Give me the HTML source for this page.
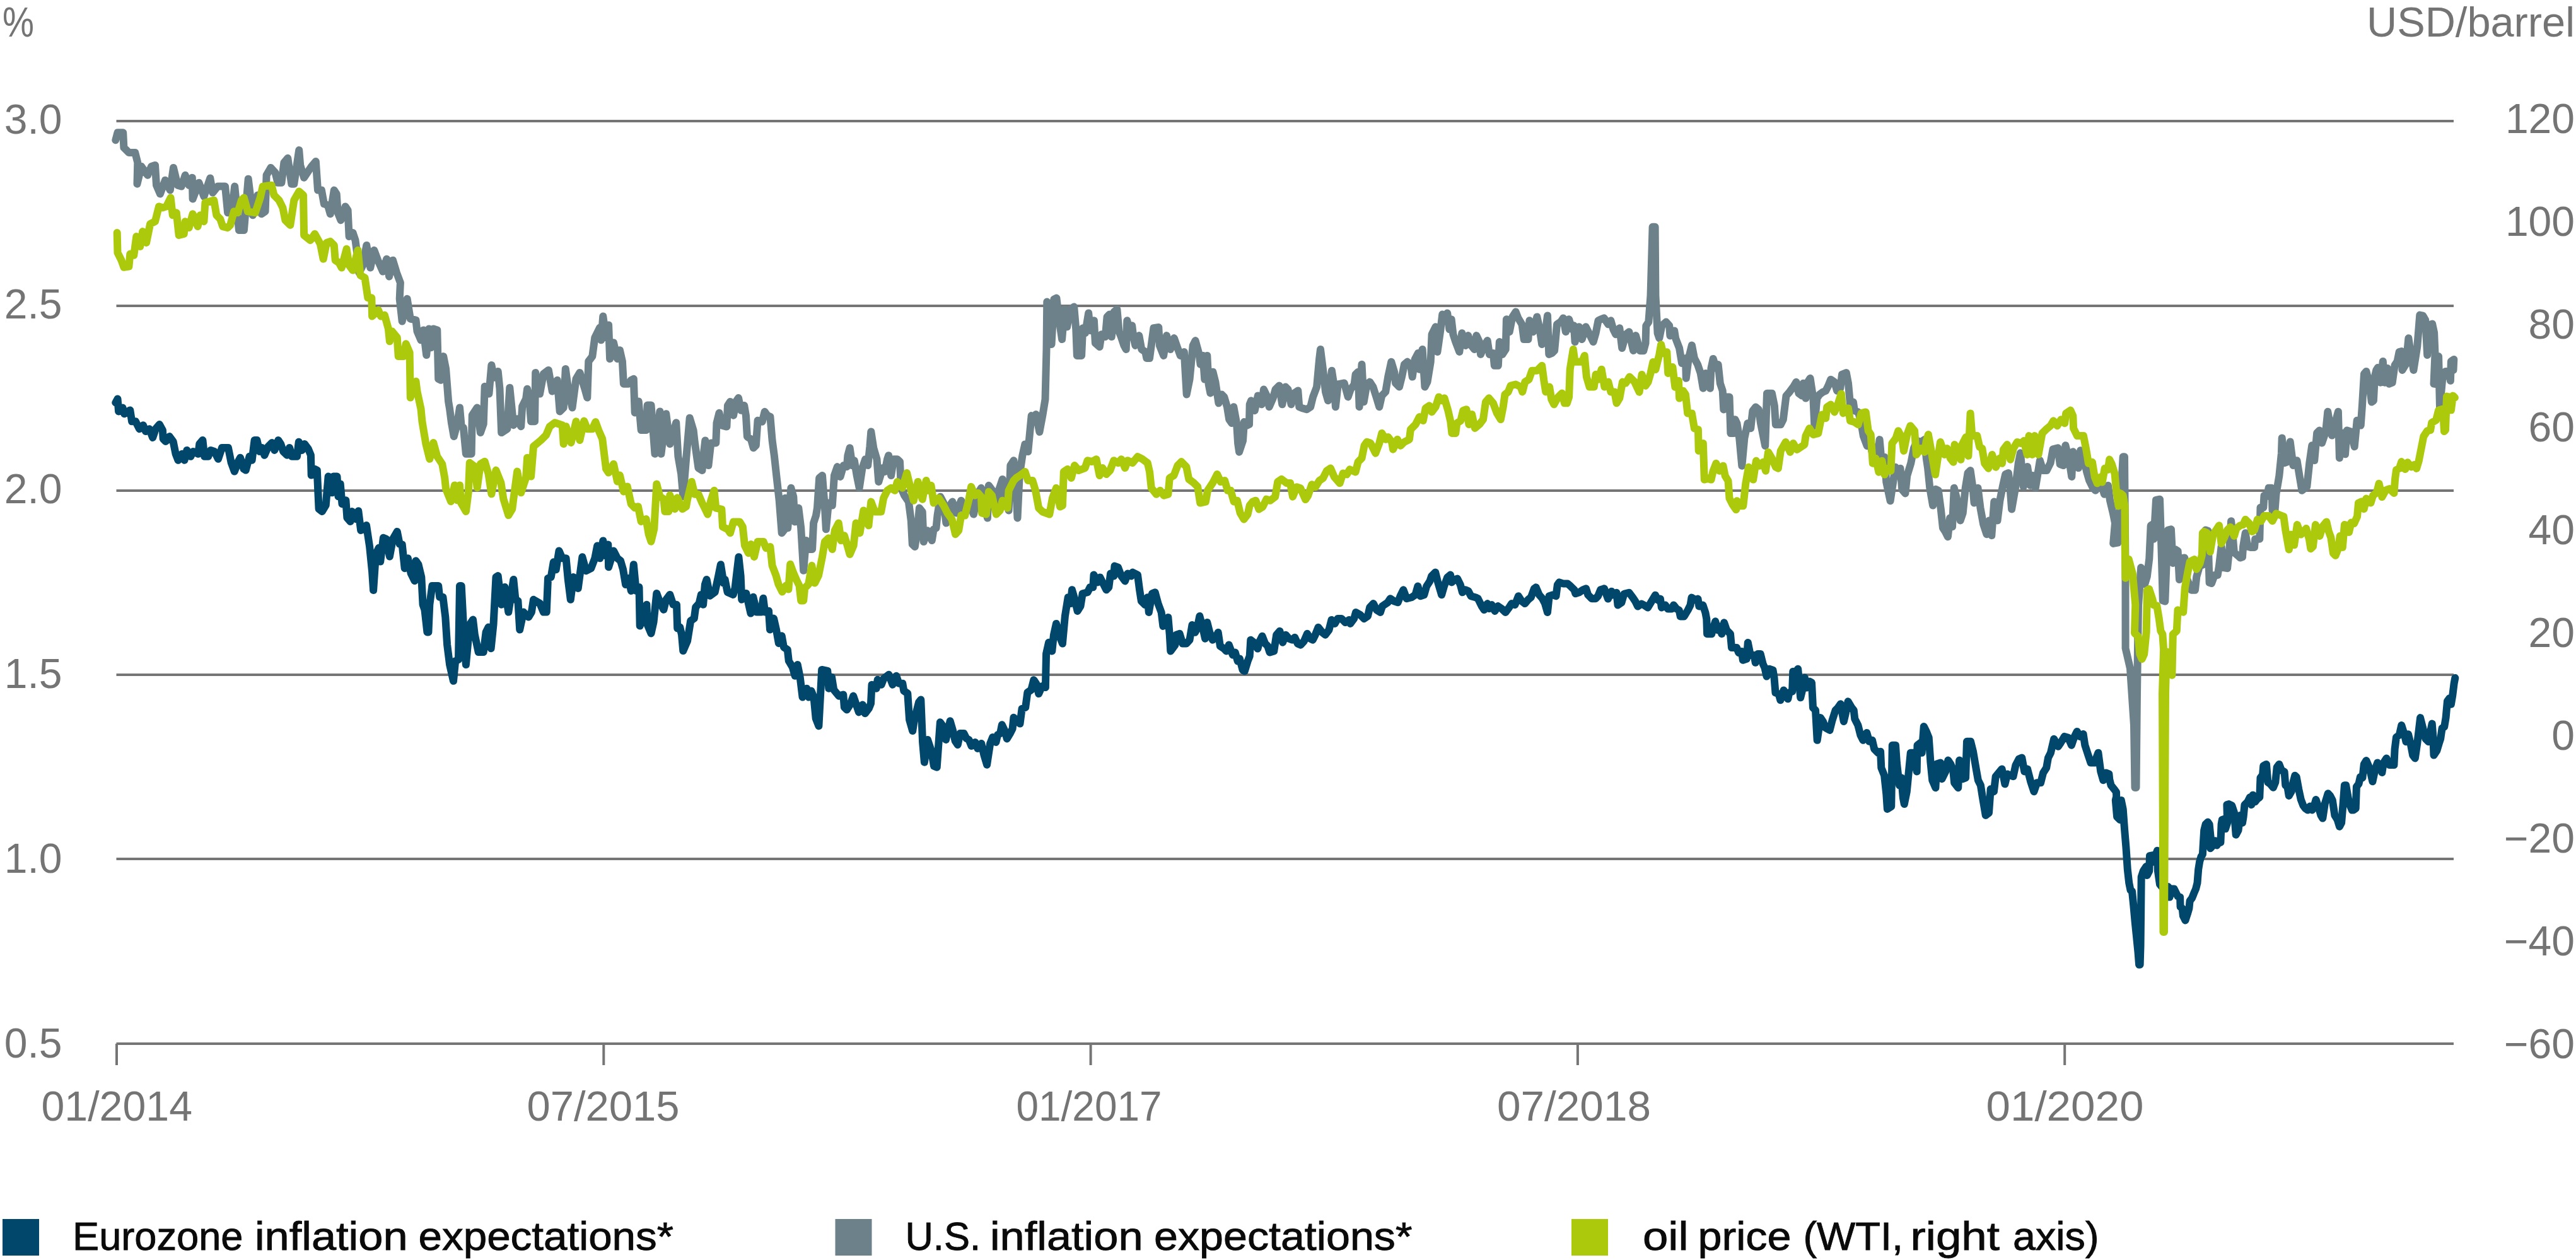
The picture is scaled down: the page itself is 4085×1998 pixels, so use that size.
<!DOCTYPE html>
<html><head><meta charset="utf-8"><title>Inflation expectations and oil price</title>
<style>
html,body{margin:0;padding:0;background:#fff;}
body{width:4085px;height:1998px;overflow:hidden;}
svg{display:block;}
text{font-family:"Liberation Sans",sans-serif;}
.ax{font-size:66px;fill:#747474;}
.lg{font-size:62.5px;fill:#0a0a0a;stroke:#0a0a0a;stroke-width:0.9px;}
</style></head><body>
<svg width="4085" height="1998" viewBox="0 0 4085 1998">
<rect width="4085" height="1998" fill="#fff"/>
<rect x="184.5" y="190" width="3706.5" height="4" fill="#757575"/>
<rect x="184.5" y="483" width="3706.5" height="4" fill="#757575"/>
<rect x="184.5" y="776" width="3706.5" height="4" fill="#757575"/>
<rect x="184.5" y="1068" width="3706.5" height="4" fill="#757575"/>
<rect x="184.5" y="1360" width="3706.5" height="4" fill="#757575"/>
<rect x="184.5" y="1653" width="3706.5" height="4" fill="#757575"/>
<rect x="183" y="1655" width="4" height="34" fill="#757575"/>
<rect x="955.3" y="1655" width="4" height="34" fill="#757575"/>
<rect x="1727.6" y="1655" width="4" height="34" fill="#757575"/>
<rect x="2499.9" y="1655" width="4" height="34" fill="#757575"/>
<rect x="3272.2" y="1655" width="4" height="34" fill="#757575"/>
<text class="ax" x="4" y="58" textLength="50" lengthAdjust="spacingAndGlyphs">%</text>
<text class="ax" x="6.7" y="212">3.0</text>
<text class="ax" x="6.7" y="505">2.5</text>
<text class="ax" x="6.7" y="798">2.0</text>
<text class="ax" x="6.7" y="1091">1.5</text>
<text class="ax" x="6.7" y="1384">1.0</text>
<text class="ax" x="6.7" y="1677">0.5</text>
<text class="ax" x="4083" y="58" text-anchor="end" textLength="330" lengthAdjust="spacingAndGlyphs">USD/barrel</text>
<text class="ax" x="4083" y="211" text-anchor="end">120</text>
<text class="ax" x="4083" y="374" text-anchor="end">100</text>
<text class="ax" x="4083" y="537" text-anchor="end">80</text>
<text class="ax" x="4083" y="700" text-anchor="end">60</text>
<text class="ax" x="4083" y="863" text-anchor="end">40</text>
<text class="ax" x="4083" y="1026" text-anchor="end">20</text>
<text class="ax" x="4083" y="1189" text-anchor="end">0</text>
<text class="ax" x="4083" y="1352" text-anchor="end">−20</text>
<text class="ax" x="4083" y="1515" text-anchor="end">−40</text>
<text class="ax" x="4083" y="1678" text-anchor="end">−60</text>
<text class="ax" x="65.53" y="1777" textLength="239.48" lengthAdjust="spacingAndGlyphs">01/2014</text>
<text class="ax" x="835.51" y="1777" textLength="241.98" lengthAdjust="spacingAndGlyphs">07/2015</text>
<text class="ax" x="1611.52" y="1777" textLength="231" lengthAdjust="spacingAndGlyphs">01/2017</text>
<text class="ax" x="2374" y="1777" textLength="244" lengthAdjust="spacingAndGlyphs">07/2018</text>
<text class="ax" x="3149.49" y="1777" textLength="249.98" lengthAdjust="spacingAndGlyphs">01/2020</text>
<polyline points="183.3,222.2 186.5,210.3 195.2,210.3 196.4,234.1 204.4,242.1 214.3,242.1 218.3,257.9 217.5,291.7 224.2,263.9 234.1,277.8 240.1,263.9 246,261.9 248,293.7 254,307.5 261.9,285.7 269.8,301.6 275,265.9 281.7,293.7 287.7,295.6 293.7,277.8 299.6,293.7 304.8,281.7 305.6,315.5 315.5,289.7 323.4,311.5 333.3,282.5 337.3,305.6 345.2,295.6 357.1,295.6 361.1,337.3 367.1,337.3 372.2,295.6 379,365.1 386.9,365.1 393.7,283.7 400.8,341.3 408.7,309.5 414.7,339.3 420.6,335.3 422.6,277.8 429.4,265.9 436.5,273.8 440.5,289.7 446.4,289.7 450.4,257.9 456.3,250.8 462.3,291.7 466.3,291.7 474.2,238.1 476.2,261.9 482.1,281.7 494,263.9 500.8,256 504,301.6 509.9,301.6 513.9,323.4 519.8,325.4 523.8,339.3 529.8,301.6 533.7,307.5 535.7,337.3 540.5,349.2 547.6,327.4 551.6,333.3 553.6,375 559.5,369 563.5,381 566.7,404.8 569.4,432.5 575.4,420.6 581.3,388.9 587.3,424.6 593.3,396.8 599.2,412.7 607.1,430.6 613.1,410.7 617.1,438.5 623,412.7 629,432.5 634.9,448.4 633.7,473.8 637.7,509.5 645.6,473.8 650.8,505.6 659.5,507.5 661.5,525.4 667.5,539.3 671.4,523.4 676.2,563.1 680.2,521.4 683.3,551.2 687.3,521.4 693.3,523.4 695.2,600.8 699.2,602.8 703.2,565.1 707.1,584.9 711.1,636.5 713.1,648.4 715.9,670.2 719.8,692.1 725,672.2 729,646.4 731.7,676.2 734.9,678.2 738.9,719.8 747.6,719.8 748.8,658.3 756.7,646.4 761.9,686.1 766.7,672.2 768.7,612.7 775.4,624.6 779.4,579 783.3,598.8 789.7,588.9 792.5,616.7 795.2,686.1 804.4,680.2 808.3,614.7 814.3,674.2 820.2,664.3 826.2,676.2 828.2,644.4 834.1,632.5 836.1,616.7 838.9,628.6 842.1,668.3 848,668.3 849.2,590.9 856,624.6 861.9,592.9 869.8,586.9 875.8,620.6 883.7,602.8 887.7,652.4 893.7,646.4 896.8,584.9 901.6,620.6 907.5,646.4 913.5,600.8 919.4,590.9 927.4,616.7 931.3,630.6 933.3,573 939.3,565.1 943.3,535.3 951.2,519.4 953.2,539.3 956.3,501.6 961.1,535.3 965.1,515.5 967.1,569 973,543.3 979,569 982.9,555.2 986.9,573 988.9,608.7 996.8,608.7 1000.8,602.8 1004.8,600.8 1006.7,654.4 1012.7,636.5 1016.7,682.1 1024.6,682.1 1026.6,642.5 1032.5,642.5 1038.5,719.8 1046.4,652.4 1048.4,719.8 1056.3,656.3 1062.3,704 1072.2,670.2 1075.4,723.8 1080.2,751.6 1083.3,787.3 1088.1,727.8 1093.7,662.7 1099.6,682.5 1101.6,700.4 1107.5,742.1 1113.5,746 1115.5,722.2 1118.3,698.4 1123.4,738.1 1127.4,702.4 1135.3,702.4 1136.5,670.6 1140.5,654.8 1145.2,674.6 1152.4,676.6 1154,642.9 1157.9,636.9 1163.1,658.7 1167.1,636.9 1171,631 1175,650.8 1180.2,642.9 1182.9,658.7 1184.9,692.5 1190.9,696.4 1194.8,710.3 1198.8,706.3 1201.6,666.7 1208.7,668.7 1212.7,652.8 1216.7,658.7 1221.4,660.7 1224.6,698.4 1227.8,722.2 1231.7,757.9 1235.7,793.7 1239.7,845.2 1244.4,839.3 1245.2,789.7 1249.2,837.3 1254.4,773.8 1258.3,787.7 1260.3,827.4 1266.3,805.6 1270.2,837.3 1274.2,904.8 1278.2,857.1 1280.2,871 1288.1,871 1290.1,829.4 1294,817.5 1296,805.6 1299.2,757.9 1304,754 1307.9,803.6 1309.9,839.3 1313.9,797.6 1319.8,801.6 1323,754 1327.8,740.1 1332.5,756 1337.7,738.1 1342.9,740.1 1344.4,722.2 1347.6,710.3 1351.6,738.1 1354.8,730.2 1358.7,754 1362.7,773.8 1367.5,742.1 1372.2,728.2 1376.2,738.1 1379.4,708.3 1381.3,684.5 1385.3,710.3 1390.5,728.2 1393.3,763.9 1400,742.1 1403.2,748 1407.1,728.2 1409.1,722.2 1413.1,754 1417.1,728.2 1423,728.2 1427,732.1 1429,773.8 1434.1,785.7 1440.9,795.6 1444.8,825.4 1446.8,863.1 1450.8,867.1 1454.8,841.3 1457.9,805.6 1462.7,811.5 1464.7,859.1 1470.6,841.3 1477.8,857.1 1480.6,839.3 1484.5,837.3 1486.5,817.5 1491.3,787.7 1496.4,797.6 1500.4,829.4 1506.3,801.6 1510.3,795.6 1516.3,813.5 1524.2,793.7 1530.2,809.5 1538.1,797.6 1544,815.5 1550,783.7 1556,773.8 1561.9,801.6 1565.9,821.4 1567.9,769.8 1573.8,777.8 1579.8,801.6 1583.7,777.8 1589.7,759.9 1593.7,789.7 1599.6,809.5 1602.4,738.1 1607.5,730.2 1610.3,754 1613.5,821.4 1616.7,754 1621.4,722.2 1625.4,704.4 1630.2,716.3 1635.7,659.1 1639.7,665.1 1642.9,657.1 1648.4,684.9 1653.6,657.1 1657.5,633.3 1659.5,554 1660.3,478.6 1665.5,484.5 1667.5,546 1671.4,474.6 1675.4,472.6 1679.4,506.3 1684.1,538.1 1688.1,490.5 1692.1,518.3 1697.2,490.5 1703.2,486.5 1706.3,522.2 1707.9,563.9 1715.1,563.9 1717.1,520.2 1721,528.2 1726.2,496.4 1729,524.2 1734.9,508.3 1736.9,544 1743.7,550 1746.8,530.2 1752.8,534.1 1755.6,502.4 1759.5,498.4 1762.7,534.1 1766.7,494.4 1771.4,490.5 1774.6,526.2 1777.8,534.1 1782.5,548 1785.7,554 1787.3,508.3 1791.3,522.2 1795.2,516.3 1797.6,536.1 1800.4,548 1806.3,532.1 1810.3,554 1816.3,557.9 1818.3,567.9 1823,567.9 1827,538.1 1829.4,520.2 1837.3,519 1838.9,548 1845.2,563.9 1850,532.1 1856,554 1861.9,536.1 1866.7,550 1871.8,563.9 1877.8,557.9 1881.7,625.4 1886.5,601.6 1891.7,548 1895.6,540.1 1901.6,561.9 1903.6,577.8 1907.5,563.9 1910.3,601.6 1914.3,563.9 1916.7,609.5 1919.4,623.4 1923.4,589.7 1927.4,605.6 1932.5,639.3 1937.3,625.4 1941.3,629.4 1946,645.2 1949.2,665.1 1953.2,671 1956.3,645.2 1961.1,671 1963.1,702.8 1965.1,716.7 1971,698.8 1973,669 1977,675 1981,673 1981.7,641.3 1984.1,635.3 1989.7,651.2 1994.8,627.4 2000.8,641.3 2004,617.5 2008.7,627.4 2012.7,645.2 2018.7,631.3 2022.6,617.5 2028.6,611.5 2033.3,641.3 2038.5,613.5 2042.5,617.5 2047.6,641.3 2052.4,623.4 2058.3,619.4 2060.3,645.2 2065.1,647.2 2072.2,649.2 2078.2,645.2 2082.1,629.4 2088.1,613.5 2092.1,569.8 2094,554 2098,585.7 2102,621.4 2106,635.3 2111.9,587.7 2115.9,613.5 2117.9,645.2 2121.8,609.5 2131.7,607.5 2137.7,629.4 2141.7,617.5 2147.6,609.5 2149.6,593.7 2153.6,589.7 2155.6,645.2 2159.5,577.8 2162.7,637.3 2167.5,609.5 2172.2,605.6 2177.4,613.5 2182.5,629.4 2187.3,645.2 2191.3,627.4 2197.2,621.4 2201.2,597.6 2206.3,573.8 2211.1,589.7 2213.1,607.5 2219,613.5 2223,597.6 2227,577.8 2231.7,573.8 2236.9,577.8 2239.7,597.6 2243.7,569.8 2248.8,559.9 2250.8,585.7 2255.6,554 2259.5,613.5 2263.5,605.6 2268.7,573.8 2270.6,530.2 2276.6,518.3 2279.4,557.9 2284.5,522.2 2287.3,498.4 2292.5,502.4 2295.2,496.4 2298.4,522.2 2301.6,506.3 2304.4,530.2 2308.3,542.1 2314.3,557.9 2318.3,528.2 2324.2,548 2328.2,532.1 2333.3,548 2338.1,554 2341.3,532.1 2346,542.1 2348,561.9 2354,548 2358.7,540.1 2361.9,561.9 2367.9,559.9 2369.8,579.8 2375.8,579.8 2377.8,542.1 2382.5,561.9 2387.7,554 2388.9,506.3 2393.7,526.2 2398.4,502.4 2403.6,494.4 2407.5,504.4 2413.5,514.3 2416.7,538.1 2423.4,538.1 2425.4,508.3 2431.3,526.2 2437.3,502.4 2441.3,520.2 2445.2,546 2449.2,538.1 2454,500.4 2456.3,561.9 2461.1,559.9 2465.1,556 2469,514.3 2475,510.3 2479,504.4 2482.9,526.2 2488.1,506.3 2492.9,522.2 2496,516.3 2497.6,542.1 2504,518.3 2508.7,538.1 2514.7,518.3 2519.8,528.2 2526.6,542.1 2530.6,528.2 2534.5,508.3 2538.5,506.3 2543.7,504.4 2550.4,514.3 2554.4,508.3 2558.3,522.2 2562.3,530.2 2568.3,520.2 2572.2,552 2578.2,530.2 2583.3,526.2 2590.1,556 2594,532.1 2600.8,556.2 2606.3,556.2 2609.5,544.3 2610.3,516.5 2614.3,510.6 2617.5,468.9 2620.6,359.8 2624.6,359.8 2625.4,468.9 2628.6,528.4 2631.3,536.3 2635.3,516.5 2642.1,510.6 2647.2,516.5 2648.4,532.4 2655.2,524.4 2657.1,536.3 2663.1,552.2 2667.1,576 2673,568.1 2673.8,599.8 2677.8,568.1 2682.9,547.5 2686.9,568.1 2692.1,578 2696.8,591.9 2700.8,615.7 2704.8,591.9 2711.9,615.7 2713.5,584 2716.7,568.9 2721.4,584 2724.6,578 2727.8,607.8 2731.7,619.7 2733.3,649.4 2738.5,629.6 2742.5,629.6 2744.4,687.1 2749.2,687.1 2751.6,665.3 2754.4,671.3 2758.3,695.1 2762.3,738.7 2766.3,695.1 2771.4,671.3 2776.2,679.2 2779.4,651.4 2784.1,645.5 2788.9,649.4 2792.1,671.3 2799.2,707 2802,623.7 2809.9,623.7 2813.9,643.5 2815.9,673.3 2823.8,673.3 2827.8,665.3 2832.5,627.6 2837.7,621.7 2843.7,613.7 2848.4,605.8 2852.4,623.7 2857.5,627.6 2859.5,607.8 2863.5,631.6 2865.5,607.8 2870.6,599.8 2875.4,631.6 2877.4,675.2 2881.3,631.6 2885.3,625.6 2890.5,621.7 2895.2,619.7 2899.2,611.7 2903.2,601.8 2909.1,605.8 2913.1,619.7 2918.3,615.7 2921,593.9 2927.8,591.1 2931,607.8 2934.1,641.5 2938.9,637.5 2940.9,651.4 2946.8,653.4 2950.8,667.3 2954.8,691.1 2960.7,707 2964.7,699 2968.7,716.9 2971.4,709 2977.8,726.8 2980.6,697.1 2983.3,726.8 2988.5,724.8 2991.3,764.5 2997.6,794.3 3002.4,762.5 3005.6,740.7 3009.5,754.6 3013.5,742.7 3016.3,776.4 3021.4,782.4 3024.2,754.6 3030.2,734.8 3034.9,711 3040.1,699 3046,701 3052,697.1 3054.8,726.8 3057.1,742.1 3060.3,773.8 3065.1,801.6 3069.8,775.8 3073.8,777.8 3077.8,807.5 3081,837.3 3084.9,843.3 3088.9,851.2 3092.1,821.4 3096,835.3 3098.8,773.8 3102.8,789.7 3108.7,825.4 3112.7,813.5 3116.7,773.8 3120.6,750 3124.6,746 3128.6,773.8 3130.6,797.6 3136.5,773.8 3140.5,805.6 3145.2,831.3 3150.4,847.2 3154.4,825.4 3158.3,849.2 3162.3,795.6 3167.5,825.4 3171.4,793.7 3176.2,769.8 3180.2,752 3184.9,750 3187.3,769.8 3190.1,807.5 3196,773.8 3200.8,734.1 3204,718.3 3208.7,771.8 3215.1,740.1 3219.8,769.8 3223.8,754 3227.8,773.8 3234.9,730.2 3239.7,746 3245.6,746 3251.6,734.1 3255.6,712.3 3263.5,710.3 3266.7,736.1 3272.2,738.1 3275.4,706.3 3281.3,730.2 3285.3,756 3287.3,716.3 3292.1,726.2 3296,742.1 3299.2,714.3 3305.2,730.2 3309.1,748 3313.1,761.9 3319,773.8 3323,777.8 3329,761.9 3332.9,769.8 3336.9,783.7 3342.9,769.8 3346,793.7 3350.8,813.5 3354,829.4 3351.2,861.9 3358.3,860.7 3361.4,819 3366.7,724.3 3369,724.3 3370.5,900 3370.6,1028 3378,1060 3384,1150 3385.5,1249 3387.5,1249 3389,1100 3391,960 3395.2,900 3398.8,907.1 3401.2,926.2 3404.8,914.3 3408.3,885.7 3410.7,833.3 3414.3,831 3415.5,854.8 3419,792.9 3425,791.7 3427.4,866.7 3429.8,952.4 3433.3,953.6 3435.7,890.5 3438.1,840.5 3442.9,839.3 3445.7,892.9 3450,871.4 3453.6,873.8 3456,919 3458.3,885.7 3464.3,884.5 3466.7,914.3 3475,935.7 3481,935.7 3483.3,914.3 3488.1,897.6 3494,895.2 3497.6,840.5 3501.2,841.7 3503.6,923.8 3507.1,925 3511.9,911.9 3516.7,911.9 3519,897.6 3522.6,866.7 3526.2,900 3532.1,901.2 3535.7,866.7 3538.1,826.2 3540.5,847.6 3542.9,876.2 3548.8,881 3552.4,884.5 3556,883.3 3557.1,866.7 3560.7,845.2 3564.3,866.7 3569,867.9 3575,867.9 3576.2,854.8 3583.3,854.8 3584.5,804.8 3589.3,804.8 3590.5,785.7 3595.2,786.9 3597.6,773.8 3602.4,773.8 3603.6,809.5 3607.1,814.3 3609.5,783.3 3614.3,754.8 3617.9,719 3618.7,694.4 3622.6,734.1 3627.8,732.1 3631.7,700.4 3636.5,738.1 3642.5,730.2 3646.4,754 3650.4,777.8 3658.3,771.8 3662.3,734.1 3666.3,706.3 3670.2,730.2 3674.2,686.5 3678.2,682.5 3682.1,702.4 3688.1,684.5 3691.3,652.8 3698,690.5 3702,674.6 3707.9,652.8 3709.9,726.2 3713.9,686.5 3719,720.2 3721.8,682.5 3727.8,684.5 3733.7,708.3 3737.7,666.7 3743.7,674.6 3746,642.5 3749,592.9 3752.4,588.9 3756.9,606.7 3760.9,637.5 3763.9,635.5 3765.9,596.8 3768.3,586.9 3770.8,582.9 3774.8,606.7 3778.8,573 3781.7,606.7 3785.7,583.9 3788.7,608.7 3793.7,606.7 3797.6,579 3801.6,573 3804.6,558.1 3808.5,557.1 3809.5,586.9 3815.5,577 3819.4,536.3 3822.4,557.1 3827.4,586.9 3833.3,549.2 3837.3,499.6 3842.3,500.6 3846.2,507.5 3849.2,563.1 3852.2,515.5 3857.1,513.5 3860.1,527.4 3861.5,561.1 3859.5,608.7 3865.5,609.7 3867.1,565.1 3869,645.4 3874,592.9 3878,588.9 3882.9,588.9 3885.9,603.8 3886.9,573 3891.3,570 3890.5,586.9" fill="none" stroke="#6c8189" stroke-width="12" stroke-linejoin="round" stroke-linecap="round"/>
<polyline points="183.3,638.5 186.5,632.5 188.1,652.4 194.4,646.4 197.2,656.3 206.3,650.4 209.1,668.3 215.1,668.3 221,680.2 227,674.2 231,684.1 236.9,680.2 242.1,694 246.8,680.2 252.8,673 257.9,682.1 258.7,696 262.7,700 268.7,692.1 274.6,700 278.6,719.8 282.5,729.8 288.5,719.8 292.5,729.8 296.4,713.9 302.4,723.8 306.3,715.9 314.3,719.8 316.3,704 321.4,698 324.2,723.8 330.2,723.8 334.1,713.9 340.1,715.9 346,727.8 352,709.9 361.9,709.9 366.7,733.7 371.8,747.6 377.8,731.7 381,725.8 386.5,743.7 389.7,745.6 395.6,723.8 399.6,729.8 403.6,698 407.5,698 411.5,715.9 415.5,709.9 419.4,721.8 425.4,707.9 431.3,702 435.3,713.9 441.3,698 445.2,704 449.2,715.9 455.2,721.8 459.1,709.9 463.1,723.8 471,723.8 473.8,700.8 479,713.9 482.9,704 488.9,711.9 492.9,721.8 493.7,753.6 498.8,743.7 502.8,745.6 505.6,807.1 510.7,811.1 516.7,801.2 520.6,755.6 526.6,781.3 528.6,755.6 534.5,755.6 536.5,787.3 539.7,767.5 542.5,799.2 548.4,793.3 550.4,821 555.6,827 558.3,811.1 564.3,823 568.3,810.3 572.2,840.9 576.2,838.9 581,832.9 586.1,866.7 590.1,906.3 592.1,936.1 596,878.6 600.8,868.7 603.2,890.5 607.9,852.8 612.7,854.8 617.9,882.5 623,854.8 629.8,842.9 633.7,862.7 637.7,863.5 641.7,901.2 646.8,885.3 651.6,909.1 657.5,921 659.5,889.3 663.5,895.2 668.3,915.1 670.6,958.7 673.4,966.7 677.4,1002.4 679.4,1002.4 681.3,958.7 685.3,929 695.2,929 697.2,946.8 702.4,946.8 706.3,978.6 709.1,1022.2 713.1,1054 719,1079.8 722.2,1048 727,1046 729,929 731.7,929 734.9,990.5 738.9,1054 744.8,990.5 750,982.5 752.8,1006.3 758.7,1034.1 766.7,1034.1 770.6,1002.4 774.6,994.4 778.6,1028.2 782.5,990.5 786.5,915.1 789.7,913.1 795.2,958.7 800.4,931 806.3,970.6 814.3,919 817.5,950.8 821.4,952.8 824.2,998.4 830.2,970.6 838.1,978.6 842.9,970.6 846,950.8 856,956.7 861.9,970.6 866.7,970.6 869,917.1 873.8,915.1 877.8,891.3 881.7,903.2 886.5,873.4 891.7,885.3 897.6,885.3 900.8,919 904.8,950.8 909.5,915.1 916.7,932.9 923.4,883.3 929.4,905.2 937.3,901.2 943.3,885.3 947.2,865.5 951.2,885.3 956.3,857.5 960.3,881.3 964.3,863.5 965.1,899.2 973,873.4 979,885.3 984.1,889.3 988.1,903.2 992.1,927 996.8,917.1 1000.8,936.9 1004.8,895.2 1008.7,936.9 1013.5,931 1014.7,992.5 1020.6,974.6 1025.4,958.7 1026.6,990.5 1032.5,1004.4 1036.5,986.5 1041.3,940.9 1046.4,954.8 1052.4,966.7 1056.3,950.8 1062.3,942.9 1067.5,958.7 1073,958.7 1074.2,996.4 1078.2,994.4 1081,1006.3 1083.3,1032.1 1090.1,1016.3 1095.2,984.5 1100.8,980.6 1103.2,962.7 1108.7,956.7 1111.9,942.9 1115.1,958.7 1117.9,927 1120.6,919 1125.8,944.8 1133.7,938.9 1138.9,915.1 1142.9,895.2 1147.6,925 1149.6,919 1153.6,938.9 1162.7,942.9 1165.5,932.9 1171.4,883.3 1174.6,913.1 1176.2,950.8 1183.3,940.9 1190.5,972.6 1194.4,946.8 1200,970.6 1207.1,970.6 1210.3,948.8 1213.1,970.6 1219,968.7 1221,998.4 1227,980.6 1231,998.4 1234.9,1020.2 1239.7,1008.3 1242.9,1026.2 1248.8,1030.2 1250.8,1048 1256.7,1057.9 1260.7,1071.8 1264.7,1054 1268.7,1073.8 1272.6,1105.6 1279.4,1091.7 1282.5,1105.6 1286.5,1095.6 1290.5,1105.6 1293.7,1139.3 1298.4,1151.2 1303.2,1061.9 1312.3,1063.9 1314.3,1091.7 1319,1073.8 1322.2,1093.7 1330.2,1103.6 1337.3,1101.6 1338.9,1121.4 1342.9,1125.4 1348,1117.5 1353.2,1103.6 1357.9,1117.5 1361.9,1129.4 1367.9,1117.5 1371.8,1131.3 1377.8,1123.4 1381,1115.5 1382.5,1085.7 1389.7,1091.7 1391.7,1077.8 1397.6,1085.7 1401.6,1075.8 1409.5,1069.8 1415.5,1085.7 1421.4,1071.8 1425.4,1083.7 1431.3,1083.7 1433.3,1095.6 1439.3,1099.6 1442.1,1141.3 1447.2,1159.1 1450,1141.3 1457.1,1113.5 1460.3,1109.5 1463.1,1177 1465.9,1208.7 1471,1173 1477,1190.9 1481,1214.7 1485.7,1216.7 1490.9,1145.2 1496.8,1153.2 1500,1173 1506.7,1143.3 1510.7,1157.1 1514.7,1175 1518.7,1181 1522.6,1163.1 1528.6,1163.1 1532.5,1171 1536.5,1173 1540.5,1182.9 1546.4,1177 1550.4,1186.9 1556.3,1179 1560.3,1196.8 1565.1,1212.7 1570.2,1179 1574.2,1169 1579.4,1177 1582.1,1165.1 1586.1,1163.1 1588.9,1149.2 1593.7,1159.5 1596.8,1171.4 1601.6,1163.5 1605.6,1155.6 1607.5,1137.7 1612.7,1143.7 1617.5,1147.6 1620.6,1123.8 1626.2,1121.8 1629.4,1098 1635.3,1094 1639.3,1078.2 1643.3,1084.1 1647.2,1100 1652.4,1088.1 1657.9,1090.1 1659.1,1036.5 1663.1,1018.7 1668.3,1032.5 1671,1006.7 1675,988.9 1680.2,1008.7 1684.9,1020.6 1688.9,977 1693.7,947.2 1697.6,957.1 1700,935.3 1704,949.2 1708.7,969 1713.5,961.1 1716.7,941.3 1724.6,939.3 1728.6,931.3 1733.3,931.3 1734.5,911.5 1740.5,923.4 1744.4,915.5 1750.4,927.4 1754.4,935.3 1758.3,931.3 1761.1,909.5 1766.3,913.5 1767.5,897.6 1773,899.6 1778.2,913.5 1784.1,921.4 1788.1,909.5 1794,913.5 1796,907.5 1804,911.5 1807.1,935.3 1809.9,953.2 1815.9,959.1 1819.8,947.2 1821.8,971 1827,941.3 1831.7,939.3 1836.5,957.1 1841.7,971 1844.4,992.9 1849.6,984.9 1852.4,979 1854.8,1006.7 1856.3,1032.5 1863.5,1022.6 1865.5,1006.7 1870.6,1004.8 1875.4,1020.6 1881.3,1020.6 1886.5,1014.7 1890.5,990.9 1895.2,1002.8 1898.4,996.8 1902.4,977 1907.1,994.8 1911.1,1012.7 1914.3,986.9 1918.3,1002.8 1923,1014.7 1929,1008.7 1931.7,1002.8 1934.9,1024.6 1940.9,1028.6 1944.8,1032.5 1948.8,1022.6 1954.8,1038.5 1958.7,1034.5 1962.7,1048.4 1965.9,1044.4 1970.6,1062.3 1973.8,1064.3 1978.6,1048.4 1981.7,1040.5 1983.3,1014.7 1988.5,1018.7 1994.4,1028.6 1997.6,1016.7 2001.6,1008.7 2006.3,1020.6 2010.3,1024.6 2013.5,1034.5 2020.2,1032.5 2024.2,1006.7 2029.4,1000.8 2034.1,1018.7 2038.9,1006.7 2044,1012.7 2049.2,1014.7 2053.2,1010.7 2057.9,1020.6 2062.7,1022.6 2067.9,1016.7 2073,1004.8 2077.8,1012.7 2081.7,1014.7 2085.7,1006.7 2090.5,994.8 2096.8,1002.8 2101.6,1006.7 2107.5,998.8 2111.5,982.9 2116.7,988.9 2121.4,981 2127.4,981 2133.3,986.9 2139.3,982.9 2141.3,988.9 2147.2,981 2150,971 2157.1,975 2163.1,981 2169,977 2172.2,963.1 2177.8,957.1 2182.9,967.1 2188.9,971 2192.1,961.1 2200.8,955.2 2204.8,949.2 2210.7,953.2 2216.7,955.2 2220.6,945.2 2225.4,935.3 2230.6,949.2 2238.5,947.2 2244.4,943.3 2248.4,929.4 2252.4,945.2 2258.3,943.3 2262.3,929.4 2267.5,921.4 2270.2,913.5 2276.2,907.5 2280.2,923.4 2286.1,943.3 2290.1,929.4 2295.2,915.5 2300,911.5 2302,923.4 2306,919.4 2311.1,917.5 2315.9,927.4 2319,939.3 2323.8,935.3 2328.6,937.3 2332.5,945.2 2339.7,947.2 2343.7,949.2 2349.6,961.1 2353.6,967.1 2358.7,957.1 2361.5,965.1 2365.5,959.1 2370.6,969 2375.4,961.1 2381.3,965.1 2387.3,971 2393.3,963.1 2397.2,957.1 2402.4,959.1 2407.9,945.2 2413.1,953.2 2418.3,957.1 2423,951.2 2427.8,947.2 2432.9,933.3 2435.7,931.3 2440.9,943.3 2446,949.2 2450,957.1 2454,971 2456.7,945.2 2462.7,943.3 2467.5,945.2 2469.8,927.4 2472.6,923.4 2478.6,925.4 2485.7,925.4 2490.5,929.4 2496.4,935.3 2498.4,941.3 2504.4,939.3 2510.3,935.3 2515.1,933.3 2518.3,943.3 2524.2,949.2 2530.2,949.2 2534.1,945.2 2538.1,935.3 2544,933.3 2550,949.6 2555.6,937.7 2559.5,943.7 2563.5,939.7 2565.5,959.5 2571.4,955.6 2575.4,941.7 2583.3,939.7 2589.3,947.6 2593.3,953.6 2597.2,961.5 2603.2,957.5 2607.1,959.5 2613.1,963.5 2619,953.6 2625,943.7 2629,951.6 2632.9,949.6 2634.9,963.5 2640.9,959.5 2644.8,965.5 2650.8,965.5 2654,959.5 2658.7,965.5 2662.7,967.5 2664.7,977.4 2670.6,977.4 2676.6,967.5 2680.6,959.5 2682.5,947.6 2688.5,951.6 2692.5,949.6 2694.4,961.5 2700.4,959.5 2704.4,971.4 2706.3,981.3 2707.1,1005.2 2714.3,1005.2 2717.5,993.3 2720.2,985.3 2724.2,999.2 2728.2,993.3 2730.2,1005.2 2734.1,987.3 2738.1,999.2 2744,1005.2 2746,1027 2754,1027 2757.1,1034.9 2761.9,1032.9 2763.9,1046.8 2769.8,1044.8 2771.8,1019 2775.8,1038.9 2781.7,1038.9 2783.7,1050.8 2787.7,1036.9 2791.7,1036.9 2795.6,1052.8 2798.4,1058.7 2801.6,1072.6 2805.6,1060.7 2811.5,1062.7 2813.5,1074.6 2815.5,1098.4 2820.6,1100.4 2823.4,1110.3 2828.6,1094.4 2835.3,1108.3 2837.3,1098.4 2842.1,1096.4 2843.3,1064.7 2847.2,1066.7 2851.2,1060.7 2855.2,1106.3 2859.1,1090.5 2861.9,1074.6 2865.1,1090.5 2869.8,1080.6 2873,1082.5 2875,1122.2 2879,1126.2 2881.7,1173.8 2886.9,1138.1 2890.9,1144 2894.8,1154 2901.6,1157.9 2905.6,1142.1 2910.7,1126.2 2914.7,1122.2 2918.7,1116.3 2923.8,1144 2926.6,1132.1 2930.6,1112.3 2936.5,1122.2 2939.7,1126.2 2941.3,1140.1 2946.4,1150 2950.4,1165.9 2954.4,1173.8 2960.3,1161.9 2964.3,1175.8 2969,1173.8 2972.2,1187.7 2978.2,1193.7 2982.1,1191.7 2983.3,1217.5 2988.1,1229.4 2991.3,1259.1 2992.9,1282.9 2999.2,1279 3000.8,1181.7 3006,1181.7 3007.9,1209.5 3011.9,1245.2 3015.1,1233.3 3017.9,1265.1 3019.8,1275 3023.8,1255.2 3029.8,1193.7 3033.7,1193.7 3035.7,1205.6 3039.7,1223.4 3040.5,1181.7 3045.6,1177.8 3047.6,1193.7 3050.8,1152 3054.8,1159.9 3058.7,1169.8 3061.5,1209.5 3064.3,1237.3 3069.4,1249.2 3071.4,1211.5 3077.4,1209.5 3079.4,1235.3 3085.3,1223.4 3089.3,1205.6 3093.3,1211.5 3097.2,1221.4 3099.2,1241.3 3105.2,1249.2 3107.1,1205.6 3111.9,1235.3 3117.1,1233.3 3119,1175.8 3125,1175.8 3129,1191.7 3134.1,1221.4 3136.9,1237.3 3140.9,1245.2 3143.7,1263.1 3148.8,1292.9 3154,1288.9 3156.7,1251.2 3161.9,1255.2 3164.7,1231.3 3174.6,1219.4 3179.4,1243.3 3183.3,1227.4 3192.5,1231.3 3196.4,1213.5 3201.6,1203.6 3206.3,1201.6 3210.3,1223.4 3215.1,1219.4 3220.2,1239.3 3225.4,1255.2 3230.2,1241.3 3236.1,1241.3 3240.1,1225.4 3245.2,1217.5 3248,1201.6 3252,1193.7 3257.1,1171.8 3263.9,1183.7 3267.9,1177.8 3273.8,1167.9 3279.8,1169.8 3284.9,1181.7 3289.7,1167.9 3293.7,1159.9 3298.4,1167.9 3303.6,1163.9 3306.3,1181.7 3311.5,1197.6 3315.5,1209.5 3321.4,1209.5 3327.4,1193.7 3331.3,1223.4 3335.3,1237.3 3339.3,1225.4 3344.4,1227.4 3345.2,1235.7 3347.6,1245.2 3352.4,1251.2 3356,1256 3356.2,1263.1 3354.8,1269 3357.1,1295.2 3361.9,1300 3363.8,1269 3366.7,1283.3 3369,1314.3 3371.4,1342.9 3373.8,1378.6 3376.2,1400 3378.6,1411.9 3381,1413.1 3383.3,1435.7 3385.7,1461.9 3388.1,1485.7 3390.5,1509.5 3392.1,1529.8 3393.6,1529.8 3394.5,1500 3395.2,1438.1 3395.7,1390.5 3398.8,1381 3403.6,1373.8 3404.8,1388.1 3408.3,1381 3409,1357.1 3414.3,1356 3416,1366.7 3417.9,1357.1 3421,1348.8 3421.9,1381 3425,1402.4 3431,1409.5 3438.1,1406 3440.5,1422.6 3444,1409.5 3447.6,1409.5 3451.2,1416.7 3453.6,1421.4 3457.1,1422.6 3457.6,1438.1 3460.7,1440.5 3461.9,1452.4 3465.5,1459.5 3468.6,1450 3471.4,1440.5 3472.6,1428.6 3476.2,1423.8 3479,1416.7 3482.1,1409.5 3484.5,1400 3486.2,1378.6 3488.1,1366.7 3490.5,1358.3 3492.9,1354.8 3494,1335.7 3495.2,1316.7 3497.6,1307.1 3501.2,1303.6 3503.6,1307.1 3506,1331 3505.2,1345.2 3509.5,1340.5 3513.1,1333.3 3515.5,1340.5 3517.9,1336.9 3521.4,1335.7 3522.6,1307.1 3523.8,1300 3527.4,1298.8 3529,1314.3 3532.1,1304.8 3531.4,1276.2 3534.5,1275 3539.3,1277.4 3542.9,1288.1 3544,1302.4 3545.7,1323.8 3549.5,1316.7 3552.4,1292.9 3556,1304.8 3557.6,1295.2 3559.5,1276.2 3564.3,1271.4 3567.9,1264.3 3570.2,1276.2 3572.6,1260.7 3576.2,1271.4 3579.8,1266.7 3583.3,1264.3 3584.5,1233.3 3588.1,1228.6 3589.3,1214.3 3594,1211.9 3596.4,1240.5 3600,1242.9 3604.8,1248.8 3608.3,1240.5 3610.7,1216.7 3614.3,1211.9 3617.9,1221.4 3622.6,1223.8 3624.3,1245.2 3627.4,1247.6 3629.8,1261.9 3633.8,1254.8 3635.2,1245.2 3639.3,1229.8 3641.7,1232.1 3645.2,1251.2 3648.8,1267.9 3652.4,1277.4 3656,1282.1 3659.5,1284.5 3663.1,1278.6 3666.7,1284.5 3670.2,1276.2 3672.6,1267.9 3676.2,1278.6 3680.5,1292.9 3683.3,1297.6 3686.9,1273.8 3691.7,1258.3 3695.2,1261.9 3698.8,1269 3702.4,1292.9 3706.7,1300 3710,1310.7 3713.1,1304.8 3715.5,1276.2 3717.9,1245.2 3720.2,1245.2 3723.8,1265.5 3726.2,1276.2 3729.8,1284.5 3732.1,1284.5 3735.7,1282.1 3736.9,1247.6 3740.5,1242.9 3742.9,1232.1 3746.4,1233.3 3748.8,1211.9 3752.4,1206 3756,1214.3 3759.5,1226.2 3762.4,1239.3 3766.7,1219 3770.2,1209.5 3773.8,1214.3 3777.4,1225 3779.8,1209.5 3784.5,1202.4 3789.3,1213.1 3796.4,1213.1 3797.6,1188.1 3800,1169 3804.8,1165.5 3808.3,1150 3813.1,1165.5 3815.5,1176.2 3819,1164.3 3822.6,1178.6 3826.2,1197.6 3829.8,1202.4 3833.3,1178.6 3838.1,1138.1 3842.9,1157.1 3846.4,1171.4 3851.2,1176.2 3854.8,1157.1 3856.7,1147.6 3858.3,1166.7 3859.5,1197.6 3864.3,1190.5 3867.9,1178.6 3870.2,1171.4 3872.6,1154.8 3876.2,1152.4 3878.6,1138.1 3881,1111.9 3884.5,1107.1 3886.9,1116.7 3889.3,1102.4 3891.7,1083.3 3893.3,1075" fill="none" stroke="#00476b" stroke-width="12" stroke-linejoin="round" stroke-linecap="round"/>
<polyline points="185.7,369 186.5,400.8 192.5,412.7 196.4,423.8 204.4,422.6 206.3,402.8 212.3,404.8 216.3,375 222.2,390.9 226.2,367.1 232.1,384.9 238.1,355.2 246,351.2 252,327.4 257.9,329.4 263.9,327.4 270.6,313.5 273.8,341.3 279.8,337.3 283.7,373 291.7,371 293.7,351.2 299.6,361.1 305.6,339.3 313.5,359.1 317.5,341.3 323.4,351.2 325.4,321.4 339.3,317.5 343.3,341.3 349.2,347.2 353.2,359.1 361.1,361.1 365.1,357.1 371,335.3 377,337.3 382.9,317.5 386.9,313.5 392.9,335.3 404.8,337.3 412.7,313.5 416.7,295.6 430.6,293.7 434.5,309.5 442.5,317.5 448.4,329.4 452.4,349.2 460.3,357.1 466.3,317.5 474.2,303.6 481,309.5 482.1,373 492.1,381 499.2,371 504.8,381 507.9,386.9 512.7,410.7 517.9,384.9 523.8,382.9 529.8,388.9 531.7,412.7 537.7,416.7 541.7,424.6 549.6,394.8 553.6,420.6 559.5,428.6 567.5,396.8 571.4,436.5 578.6,440.5 583.3,472.2 589.3,472.2 590.1,501.6 600,491.7 604,501.6 609.9,499.6 615.9,521.4 617.9,541.3 621.8,525.4 629.8,535.3 631.7,565.1 639.7,565.1 643.7,545.2 649.6,559.1 650.8,630.6 659.5,604.8 661.5,620.6 667.5,648.4 669.4,668.3 675.4,704 681.3,727.8 687.3,702 693.3,723.8 701.2,735.7 705.2,757.5 707.1,775.4 715.1,795.2 721,769.4 725,793.3 729,769.4 731,797.2 738.9,811.1 742.9,779.4 744.8,733.7 752.8,739.7 756.7,773.4 761.9,735.7 768.7,731.7 774.6,751.6 779.4,783.3 786.5,745.6 794.4,765.5 798.4,791.3 806.3,817.1 812.3,807.1 814.3,791.3 820.2,747.6 826.2,781.3 834.1,757.5 836.1,725.8 842.1,755.6 846,707.9 857.9,698 865.9,690.1 871.8,676.2 879.8,670.2 891.7,674.2 893.7,704 897.6,676.2 905.6,702 913.5,668.3 919.4,698 926.2,667.5 931.3,680.2 939.3,680.2 944.4,669 949.2,682.1 955.2,696 961.1,743.7 965.1,749.6 973,735.7 979,763.5 982.9,753.6 988.9,779.4 994.8,771.4 1000.8,799.2 1006.7,805.2 1011.9,803.2 1016.7,827 1024.6,823 1028.6,846.8 1032.5,858.7 1037.3,838.9 1041.3,767.5 1046.4,787.3 1052.4,791.3 1054.4,811.1 1060.3,811.1 1062.3,785.3 1070.2,807.1 1074.2,789.3 1082.1,807.1 1088.1,803.2 1089.7,793.7 1096.8,763.9 1101.6,783.7 1107.5,783.7 1113.5,797.6 1117.5,805.6 1122.2,815.5 1127.4,793.7 1132.5,777.8 1135.3,805.6 1144.4,807.5 1146,835.3 1154,839.3 1157.9,845.2 1163.1,827.4 1173,827.4 1177.8,835.3 1181,865.1 1186.9,877 1190.9,863.1 1196,882.9 1201.6,859.1 1210.7,859.1 1214.7,869 1221.4,867.1 1224.6,896.8 1230.6,912.7 1234.5,926.6 1240.5,938.5 1246.4,928.6 1250.4,934.5 1253.2,894.8 1258.3,908.7 1263.5,920.6 1267.5,928.6 1270.2,952.4 1274.2,952.4 1276.2,932.5 1282.1,926.6 1287.3,896.8 1292.1,924.6 1298,912.7 1304,882.9 1307.9,859.1 1313.9,853.2 1319.8,871 1323.8,841.3 1329.8,829.4 1333.7,857.1 1338.9,849.2 1343.7,865.1 1347.6,879 1353.6,865.1 1357.5,829.4 1363.5,845.2 1369.4,809.5 1377.4,833.3 1381.3,795.6 1387.3,811.5 1397.2,811.5 1401.2,789.7 1407.1,777.8 1413.1,773.8 1419,777.8 1423,763.9 1431,773.8 1438.1,750 1442.9,769.8 1448.8,793.7 1455.6,763.9 1462.7,791.7 1468.7,761.9 1472.6,777.8 1476.6,769.8 1480.6,797.6 1488.5,789.7 1496.4,801.6 1502.4,813.5 1509.5,823.4 1515.1,847.2 1520.2,841.3 1524.2,817.5 1530.2,817.5 1536.1,793.7 1540.1,771.8 1546,785.7 1550.8,781.7 1556,787.7 1557.1,813.5 1563.9,815.5 1567.9,779.8 1573,785.7 1579.8,815.5 1585.7,809.5 1589.7,793.7 1597.6,805.6 1599.6,777.8 1607.5,761.9 1611.5,757.9 1617.5,754 1625.4,748 1630.2,761.9 1637.3,761.9 1642.1,777.8 1647.2,805.6 1653.2,811.5 1664.3,815.5 1669,789.7 1675,773.8 1681,803.6 1684.9,801.6 1686.9,748 1692.9,744 1698.8,757.9 1704,738.1 1710.7,746 1720.6,742.1 1724.6,730.2 1731.7,732.1 1738.5,728.2 1743.7,754 1748.4,742.1 1754.4,752 1760.3,746 1766.3,730.2 1773,734.1 1778.2,728.2 1784.1,742.1 1788.1,730.2 1796,734.1 1804,724.2 1811.9,728.2 1819.8,734.1 1823,748 1825.8,773.8 1833.7,783.7 1839.7,777.8 1845.6,785.7 1852.4,783.7 1854.8,757.9 1861.5,754 1867.5,738.1 1873.4,732.1 1881.3,740.1 1885.3,759.9 1893.3,765.9 1899.2,771.8 1903.2,797.6 1911.9,795.6 1915.1,777.8 1923,765.9 1930.2,752 1935.7,763.9 1942.1,761.9 1946.8,777.8 1951.6,777.8 1956.7,795.6 1961.9,793.7 1966.7,813.5 1972.6,823.4 1978.6,815.5 1981.7,801.6 1986.5,795.6 1991.3,793.7 1996.4,807.5 2002.4,803.6 2008.3,791.7 2014.3,793.7 2022.2,787.7 2026.2,763.9 2032.1,759.9 2040.1,765.9 2046,765.9 2050,787.7 2056.3,772.2 2062.3,774.2 2070.2,792.1 2074.2,786.1 2080.2,768.3 2086.1,772.2 2092.1,762.3 2098,758.3 2104,746.4 2109.9,742.5 2115.9,756.3 2124.6,766.3 2129.8,750.4 2135.7,752.4 2140.5,744.4 2149.6,748.4 2153.6,732.5 2159.5,726.6 2163.5,706.7 2167.5,700.8 2173.4,702.8 2181.3,718.7 2187.3,702.8 2191.3,686.9 2197.2,696.8 2201.2,692.9 2207.1,700.8 2209.1,712.7 2215.9,696.8 2221,706.7 2227,700.8 2234.9,696.8 2236.9,681 2244.8,673 2250.8,661.1 2256.7,667.1 2260.7,647.2 2266.7,643.3 2270.6,653.2 2276.6,645.2 2281.7,629.4 2286.5,635.3 2290.5,631.3 2296.4,651.2 2300.4,669 2302.4,686.9 2308.3,686.9 2310.3,671 2316.3,667.1 2320.2,651.2 2325.4,649.2 2329.4,673 2334.1,657.1 2338.9,679 2346,673 2352,665.1 2356,637.3 2361.1,631.3 2367.9,639.3 2373.8,655.2 2379.8,665.1 2383.7,645.2 2386.5,625.4 2391.7,621.4 2395.6,611.5 2403.6,609.5 2411.5,613.5 2414.3,621.4 2418.3,605.6 2424.6,601.6 2429.4,587.7 2437.3,587.7 2445.2,579.8 2448.4,603.6 2451.2,621.4 2457.1,613.5 2460.3,633.3 2464.3,641.3 2471,629.4 2477,623.4 2481,639.3 2484.9,639.3 2488.1,629.4 2489.7,585.7 2494.8,554 2497.6,573.8 2508.7,573.8 2512.7,563.9 2515.9,597.6 2520.6,613.5 2527.8,613.5 2530.6,593.7 2534.5,601.6 2539.7,585.7 2544.4,613.5 2550.4,605.6 2554.4,621.4 2560.3,621.4 2563.5,639.3 2568.3,631.3 2573,605.6 2578.2,607.5 2584.1,597.6 2592.1,605.6 2599.6,621.7 2603.6,593.9 2609.5,611.7 2613.5,605.8 2617.5,591.9 2621.4,574 2625.4,586 2631.3,562.1 2634.1,546.3 2637.3,560.2 2643.3,558.2 2645.2,591.9 2652.4,582 2656.3,613.7 2661.9,603.8 2663.1,631.6 2669,619.7 2673,625.6 2676.2,655.4 2682.9,655.4 2686.9,679.2 2692.9,681.2 2693.7,714.9 2700.8,703 2702.8,760.6 2708.7,758.6 2713.5,760.6 2716.7,746.7 2721.4,734.8 2726.6,746.7 2732.5,738.7 2735.7,754.6 2740.5,762.5 2742.5,790.3 2747.6,800.2 2753.2,808.2 2754.4,794.3 2759.5,802.2 2764.3,802.2 2768.3,766.5 2773,740.7 2778.2,748.7 2780.2,760.6 2784.9,730.8 2790.1,738.7 2796,732.8 2800,746.7 2804,716.9 2809.9,726.8 2815.9,740.7 2819.8,742.7 2823.8,714.9 2831.7,701 2838.9,716.9 2843.7,703 2849.6,712.9 2855.6,709 2861.5,705 2863.5,691.1 2869.4,679.2 2875.4,689.1 2883.3,687.1 2889.3,657.4 2895.2,663.3 2897.2,645.5 2903.2,641.5 2909.1,653.4 2914.3,641.5 2919.8,624.4 2923,655.4 2927,647.5 2931,647.5 2934.1,667.3 2940.9,669.3 2946.8,673.3 2951.6,655.4 2958.7,653.4 2962.7,683.2 2966.7,689.1 2969.8,734.8 2974.6,726.8 2979.4,748.7 2984.5,730.8 2988.5,752.6 2993.7,742.7 2998.4,746.7 3000.4,703 3006.3,695.1 3010.3,683.2 3016.3,695.1 3019,714.9 3024.2,689.1 3029.4,675.2 3036.1,683.2 3038.9,720.9 3046,711 3052,716.9 3054.8,699 3057.9,689.1 3061.9,711 3063.9,722.9 3069,752.6 3073.8,720.9 3077,701 3083.7,720.9 3087.7,711 3092.9,726.8 3097.6,732.8 3099.6,705 3105.6,716.9 3109.5,728.8 3111.5,705 3117.5,693.1 3121.4,722.9 3124.6,655.4 3127.4,691.1 3135.3,691.1 3139.3,709 3143.3,711 3147.2,734.8 3153.2,742.7 3159.1,720.9 3165.1,740.7 3171,726.8 3175,734.8 3177,712.9 3182.9,705 3188.1,728.8 3192.9,711 3198.8,701 3204.8,703 3209.5,699 3214.7,720.9 3217.5,691.1 3222.6,720.9 3226.6,691.1 3232.5,720.9 3238.5,687.1 3244.4,681.2 3251.6,675.2 3256.3,667.3 3262.3,675.2 3268.3,665.3 3274.2,671.3 3276.2,655.4 3283.3,650.6 3287.3,659.4 3288.1,679.2 3294,691.1 3304,691.1 3307.9,711 3311.9,734.8 3317.9,732.8 3321.8,756.6 3325.8,766.5 3331,756.6 3333.7,764.5 3337.7,742.7 3342.9,744.7 3345.2,728.6 3348.8,735.7 3353.6,751.2 3356,778.6 3359.5,802.4 3362.4,782.1 3366.7,785.7 3369.5,802.4 3369.8,866.7 3370.5,916.7 3375.8,887 3381.9,909.7 3386.3,958.6 3385,1004 3390.6,1009.2 3393.3,1037.2 3396.7,1045 3400.2,1037.2 3403.7,1002.2 3405,935.9 3408.1,934.1 3413.3,949.8 3415.4,959.4 3420.3,960.3 3423.8,981.3 3426.4,1000.5 3429.4,1005.7 3431.1,1030.2 3429,1100 3430.5,1478 3432,1478 3434,1100 3435.7,1033.6 3444.4,1070.7 3445.8,1005.7 3451.8,1000.5 3453.5,967.3 3462.2,970.8 3464.8,932.4 3469.2,907.9 3472.7,890.5 3479.7,887 3483.2,902.7 3488.4,894 3491.9,880 3492.9,845.2 3495.2,842.9 3500,845.2 3504.8,875 3509.5,847.6 3514.3,840.5 3519,833.3 3522.6,861.9 3527.4,852.4 3532.1,840.5 3536.9,835.7 3542.9,850 3546.4,838.1 3552.4,833.3 3557.1,832.1 3560.7,823.8 3566.7,829.8 3571.4,842.9 3575,840.5 3579.8,823.8 3585.7,826.2 3590.5,817.9 3597.6,817.9 3603.6,826.2 3609.5,814.3 3615.5,816.7 3621.4,819 3624.3,840.5 3629.8,871.4 3633.3,847.6 3638.1,864.3 3642.9,832.1 3648.8,847.6 3657.1,838.1 3661.9,854.8 3664.3,870.2 3667.9,866.7 3671.9,832.1 3678.6,850 3683.3,834.5 3689.3,827.4 3692.9,842.9 3696.4,852.4 3700,877.4 3703.6,881 3708.3,869 3710.7,850 3714.8,867.9 3717.9,832.1 3722.6,833.3 3725,844 3728.6,828.6 3733.3,829.8 3738.1,819 3740,797.6 3745.2,795.2 3748.8,807.1 3752.4,790.5 3759.5,797.6 3763.1,785.7 3769,781 3772.6,766.7 3777.4,788.1 3783.3,777.4 3789.3,775 3796.4,782.1 3798.1,759.5 3800,745.2 3804.8,742.9 3808.3,732.1 3814.3,744 3817.9,733.3 3823.8,740.5 3828.6,736.9 3832.1,742.9 3835.7,731 3843.3,692.1 3849.2,683.1 3854.2,682.1 3856.2,670.2 3863.1,666.3 3867.1,650.4 3874,648.4 3876,684.1 3878,682.1 3880,628.6 3884.9,629.6 3886.9,650.4 3889.9,627.6 3892.9,630.6" fill="none" stroke="#adc90b" stroke-width="12" stroke-linejoin="round" stroke-linecap="round"/>
<rect x="4" y="1933" width="58" height="58" fill="#00476b"/>
<text class="lg" y="1982"><tspan x="115.02" textLength="270.49" lengthAdjust="spacingAndGlyphs">Eurozone</tspan> <tspan x="403.96" textLength="242.58" lengthAdjust="spacingAndGlyphs">inflation</tspan> <tspan x="663.53" textLength="404.47" lengthAdjust="spacingAndGlyphs">expectations*</tspan></text>
<rect x="1324.5" y="1933" width="58" height="58" fill="#6c8189"/>
<text class="lg" y="1982"><tspan x="1435.4" textLength="119.71" lengthAdjust="spacingAndGlyphs">U.S.</tspan> <tspan x="1569.96" textLength="242.58" lengthAdjust="spacingAndGlyphs">inflation</tspan> <tspan x="1830.03" textLength="409.46" lengthAdjust="spacingAndGlyphs">expectations*</tspan></text>
<rect x="2492" y="1933" width="58" height="58" fill="#adc90b"/>
<text class="lg" y="1982"><tspan x="2604.98" textLength="72.56" lengthAdjust="spacingAndGlyphs">oil</tspan> <tspan x="2692.52" textLength="147.94" lengthAdjust="spacingAndGlyphs">price</tspan> <tspan x="2859.47" textLength="158.6" lengthAdjust="spacingAndGlyphs">(WTI,</tspan> <tspan x="3029.59" textLength="141.41" lengthAdjust="spacingAndGlyphs">right</tspan> <tspan x="3192.04" textLength="136.42" lengthAdjust="spacingAndGlyphs">axis)</tspan></text>
</svg></body></html>
